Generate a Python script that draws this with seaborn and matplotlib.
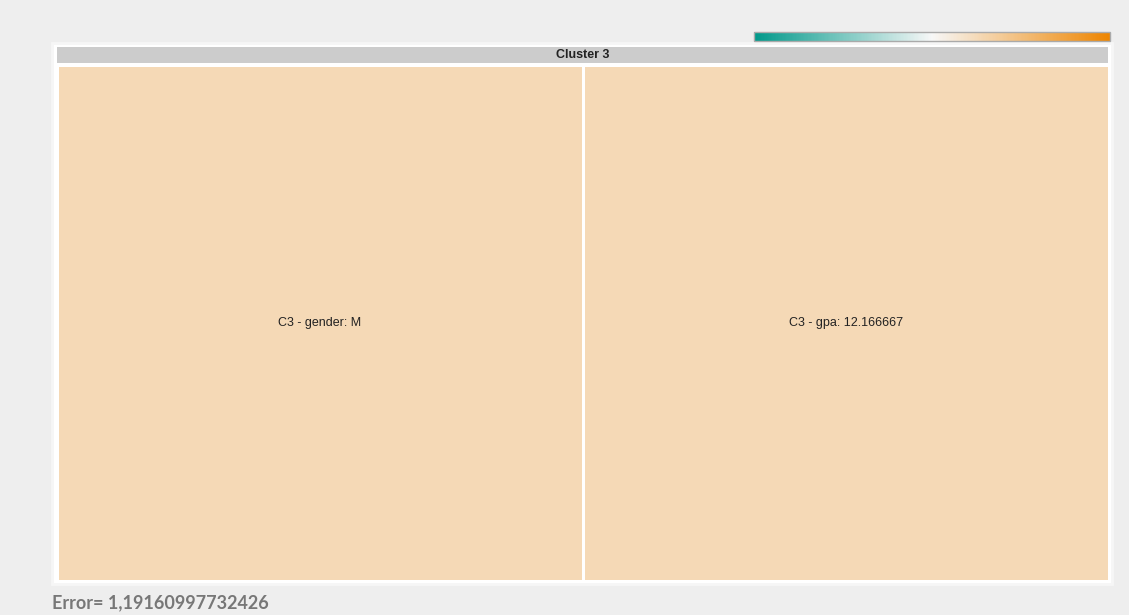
import matplotlib
matplotlib.use("Agg")
import matplotlib.pyplot as plt
from matplotlib.colors import LinearSegmentedColormap, Normalize
from matplotlib.cm import ScalarMappable
from matplotlib.patches import Rectangle
import numpy as np
import pandas as pd
import seaborn as sns

# Cluster content
cluster_title = "Cluster 3"
tile_labels = ["C3 - gender: M", "C3 - gpa: 12.166667"]
tile_scores = [0.26, 0.26]
error_value = "1,19160997732426"

sns.set_theme(style="white")
plt.rcParams["font.family"] = ["Liberation Sans", "DejaVu Sans"]

W, H = 1129, 615
fig = plt.figure(figsize=(W / 100, H / 100), dpi=100)
fig.patch.set_facecolor("#eeeeee")


def box(x0, y0, x1, y1):
    """Pixel box (top-left origin) -> figure fraction [l, b, w, h]."""
    return [x0 / W, 1 - y1 / H, (x1 - x0) / W, (y1 - y0) / H]


# white panel behind the treemap
l, b, w, h = box(52, 43, 1112, 584)
fig.patches.append(Rectangle((l, b), w, h, transform=fig.transFigure,
                             facecolor="white", edgecolor="#f6f6f6", lw=2, zorder=-5))

cmap = LinearSegmentedColormap.from_list("tealorange", ["#00998a", "#f7f7f7", "#ee8500"])
norm = Normalize(vmin=-1, vmax=1)

# header strip
hax = fig.add_axes(box(57, 47, 1108, 63))
hax.set_facecolor("#cccccc")
hax.set_xticks([]); hax.set_yticks([])
for s in hax.spines.values():
    s.set_visible(False)
hax.text(0.5, 0.5, cluster_title, ha="center", va="center", fontsize=9,
         fontweight="bold", color="#222222", transform=hax.transAxes)

# tiles
ax = fig.add_axes(box(57, 65, 1109, 581))
data = pd.DataFrame([tile_scores], columns=tile_labels)
annot = np.array([tile_labels])
sns.heatmap(data, ax=ax, cmap=cmap, vmin=-1, vmax=1, cbar=False,
            annot=annot, fmt="", annot_kws={"fontsize": 9, "color": "#222222"},
            linewidths=0.8, linecolor="white", xticklabels=False, yticklabels=False)
ax.set_xlabel(""); ax.set_ylabel("")

# colour scale
cax = fig.add_axes(box(754, 32, 1110, 41))
cb = fig.colorbar(ScalarMappable(norm=norm, cmap=cmap), cax=cax, orientation="horizontal")
cb.set_ticks([])
cb.outline.set_edgecolor("#aaaaaa")
cb.outline.set_linewidth(1)

fig.text(52 / W, 1 - 603 / H, f"Error= {error_value}", ha="left", va="center",
         fontsize=13, fontweight="bold", color="#777777", family=["Lato", "DejaVu Sans"])

fig.savefig("out.png", dpi=100, facecolor=fig.get_facecolor())
